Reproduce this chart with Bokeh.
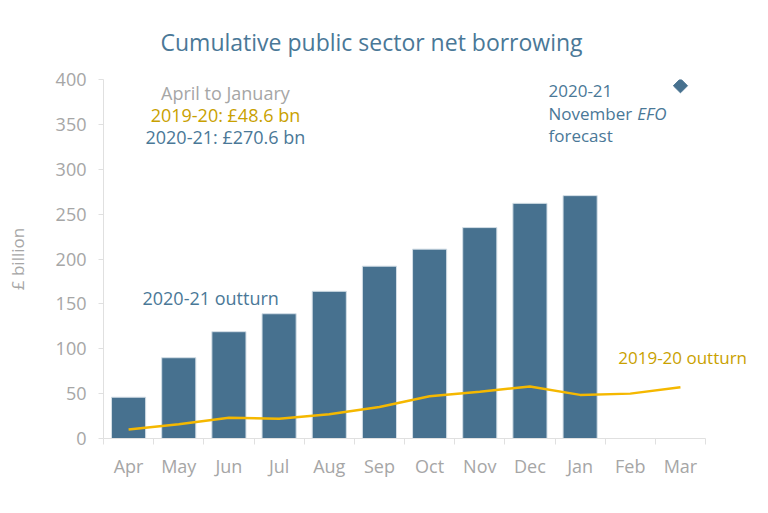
import math
from bokeh.plotting import figure
from bokeh.models import Range1d, Label, Title, FixedTicker
from bokeh.embed import file_html
from bokeh.resources import INLINE

months = ["Apr", "May", "Jun", "Jul", "Aug", "Sep", "Oct", "Nov", "Dec", "Jan", "Feb", "Mar"]
outturn_2021 = [46, 90, 119, 139, 164, 192, 211, 235, 262, 270.6]
outturn_1920 = [10, 16, 23, 22, 27, 35, 47, 52, 58, 48.6, 50, 57]
efo_forecast_mar = 393
y_ticks = [0, 50, 100, 150, 200, 250, 300, 350, 400]

FONT = "Open Sans"
BLUE = "#47718f"
BLUE_TXT = "#4a7897"
GOLD = "#f5b800"
GOLD_TXT = "#c9a100"
GREY = "#a6a6a6"

idx = list(range(len(months)))

p = figure(width=752, height=497,
           x_range=Range1d(-0.5, 12.436), y_range=Range1d(0, 400),
           output_backend="svg", toolbar_location=None,
           min_border_left=103, min_border_right=0, min_border_top=79, min_border_bottom=59)
p.outline_line_color = None
p.xgrid.grid_line_color = None
p.ygrid.grid_line_color = None

p.vbar(x=idx[:len(outturn_2021)], top=outturn_2021, width=0.68,
       fill_color=BLUE, line_color="#d3dee6", line_width=1)
p.line(x=idx, y=outturn_1920, line_color=GOLD, line_width=2.5)
p.scatter(x=[idx[-1]], y=[efo_forecast_mar], marker="square", size=10, angle=math.pi / 4,
          fill_color=BLUE, line_color=BLUE)

# y axis
p.yaxis.ticker = y_ticks
p.yaxis.axis_line_color = "#e0e0e0"
p.yaxis.major_tick_line_color = "#e0e0e0"
p.yaxis.major_tick_out = 5
p.yaxis.major_tick_in = 0
p.yaxis.minor_tick_line_color = None
p.yaxis.major_label_text_font = FONT
p.yaxis.major_label_text_font_size = "18px"
p.yaxis.major_label_text_color = GREY
p.yaxis.major_label_standoff = 12
p.yaxis.axis_label = "£ billion"
p.yaxis.axis_label_text_font = FONT
p.yaxis.axis_label_text_font_size = "17px"
p.yaxis.axis_label_text_font_style = "normal"
p.yaxis.axis_label_text_color = GREY
p.yaxis.axis_label_standoff = 24

# x axis: month labels at centres, small ticks at category boundaries
p.xaxis.ticker = FixedTicker(ticks=idx, minor_ticks=[i - 0.5 for i in idx] + [idx[-1] + 0.5])
p.xaxis.major_label_overrides = {i: m for i, m in zip(idx, months)}
p.xaxis.bounds = (-0.5, idx[-1] + 0.5)
p.xaxis.axis_line_color = "#e0e0e0"
p.xaxis.major_tick_line_color = None
p.xaxis.major_tick_out = 0
p.xaxis.major_tick_in = 0
p.xaxis.minor_tick_line_color = "#e0e0e0"
p.xaxis.minor_tick_out = 6
p.xaxis.minor_tick_in = 0
p.xaxis.major_label_text_font = FONT
p.xaxis.major_label_text_font_size = "18px"
p.xaxis.major_label_text_color = GREY
p.xaxis.major_label_standoff = 9

p.add_layout(Title(text="Cumulative public sector net borrowing", align="left", offset=57,
                   standoff=44, text_font=FONT, text_font_size="23px",
                   text_font_style="normal", text_color=BLUE_TXT), "above")


def lab(text, x, y, color, size="17px", align="left", style="normal"):
    p.add_layout(Label(x=x, y=y, text=text, text_color=color, text_font=FONT,
                       text_font_size=size, text_align=align, text_baseline="middle",
                       text_font_style=style))


lab("April to January", 1.93, 385, GREY, "18px", "center")
lab("2019-20: £48.6 bn", 1.93, 361, GOLD_TXT, "18px", "center")
lab("2020-21: £270.6 bn", 1.93, 335.5, BLUE_TXT, "18px", "center")
lab("2020-21", 8.37, 387, BLUE_TXT, "17px")
lab("November", 8.37, 362, BLUE_TXT, "17px")
lab("EFO", 10.14, 362, BLUE_TXT, "17px", style="italic")
lab("forecast", 8.37, 337.5, BLUE_TXT, "17px")
lab("2020-21 outturn", 0.277, 157, BLUE_TXT, "18px")
lab("2019-20 outturn", 9.76, 90, GOLD_TXT, "17px")

open("out.html", "w").write(file_html(p, INLINE))
